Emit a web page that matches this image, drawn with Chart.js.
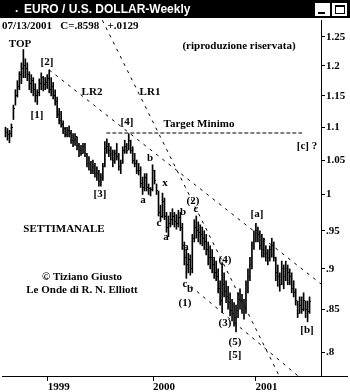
<!DOCTYPE html>
<html>
<head>
<meta charset="utf-8">
<script src="https://cdn.jsdelivr.net/npm/chart.js@4"></script>
<style>
  html, body { margin: 0; padding: 0; background: #fff; }
  canvas { display: block; }
</style>
</head>
<body>
<canvas id="myChart" width="350" height="392"></canvas>
<script>
// weekly bars, first week ending 1998-08-07, last 2001-07-13
const highs = [
  1.100, 1.098, 1.095, 1.105, 1.135, 1.160, 1.175, 1.190, 1.205, 1.228,
  1.212, 1.205, 1.190, 1.185, 1.180, 1.170, 1.160, 1.178, 1.188, 1.182,
  1.180, 1.185, 1.193, 1.180, 1.172, 1.160, 1.148, 1.130, 1.125, 1.110,
  1.100, 1.100, 1.102, 1.095, 1.090, 1.090, 1.085, 1.075, 1.072, 1.075,
  1.075, 1.060, 1.055, 1.048, 1.050, 1.045, 1.040, 1.035, 1.030, 1.045,
  1.078, 1.082, 1.075, 1.070, 1.065, 1.065, 1.075, 1.060, 1.050, 1.070,
  1.080, 1.075, 1.090, 1.080, 1.070, 1.060, 1.050, 1.045, 1.040, 1.025,
  1.030, 1.030, 1.015, 1.010, 1.043, 1.035, 1.015, 1.005, 0.985, 1.002,
  0.995, 0.975, 0.970, 0.975, 0.980, 0.975, 0.972, 0.978, 0.975, 0.960,
  0.935, 0.925, 0.920, 0.918, 0.945, 0.965, 0.970, 0.962, 0.958, 0.955,
  0.950, 0.945, 0.935, 0.930, 0.925, 0.915, 0.910, 0.900, 0.885, 0.908,
  0.895, 0.885, 0.878, 0.870, 0.862, 0.858, 0.855, 0.870, 0.875, 0.868,
  0.862, 0.885, 0.900, 0.915, 0.935, 0.950, 0.960, 0.955, 0.950, 0.945,
  0.940, 0.930, 0.925, 0.930, 0.940, 0.935, 0.915, 0.905, 0.895, 0.910,
  0.905, 0.910, 0.905, 0.900, 0.895, 0.885, 0.875, 0.860, 0.865, 0.865,
  0.870, 0.860, 0.860, 0.865
];
const lows = [
  1.085, 1.080, 1.076, 1.085, 1.112, 1.135, 1.148, 1.160, 1.170, 1.180,
  1.180, 1.175, 1.160, 1.155, 1.150, 1.140, 1.136, 1.150, 1.160, 1.158,
  1.160, 1.162, 1.155, 1.150, 1.145, 1.135, 1.115, 1.105, 1.100, 1.090,
  1.085, 1.085, 1.085, 1.075, 1.070, 1.072, 1.065, 1.055, 1.057, 1.060,
  1.055, 1.040, 1.035, 1.030, 1.030, 1.025, 1.020, 1.012, 1.012, 1.020,
  1.040, 1.060, 1.055, 1.050, 1.040, 1.045, 1.050, 1.035, 1.030, 1.045,
  1.060, 1.060, 1.065, 1.060, 1.045, 1.040, 1.030, 1.028, 1.010, 1.000,
  1.005, 1.005, 1.000, 0.998, 1.005, 1.015, 1.000, 0.970, 0.963, 0.968,
  0.965, 0.948, 0.942, 0.955, 0.958, 0.955, 0.952, 0.955, 0.950, 0.925,
  0.905, 0.888, 0.895, 0.892, 0.895, 0.935, 0.940, 0.935, 0.932, 0.930,
  0.925, 0.918, 0.905, 0.900, 0.895, 0.888, 0.885, 0.870, 0.855, 0.846,
  0.865, 0.858, 0.850, 0.842, 0.836, 0.830, 0.823, 0.840, 0.850, 0.845,
  0.838, 0.845, 0.870, 0.885, 0.900, 0.925, 0.935, 0.935, 0.925, 0.915,
  0.915, 0.910, 0.905, 0.910, 0.915, 0.910, 0.885, 0.878, 0.872, 0.880,
  0.875, 0.885, 0.880, 0.880, 0.870, 0.865, 0.855, 0.840, 0.845, 0.845,
  0.848, 0.840, 0.835, 0.845
];
const closes = [
  1.092, 1.088, 1.090, 1.100, 1.130, 1.150, 1.165, 1.185, 1.195, 1.200,
  1.195, 1.185, 1.170, 1.175, 1.160, 1.150, 1.155, 1.170, 1.180, 1.168,
  1.172, 1.178, 1.160, 1.165, 1.150, 1.140, 1.120, 1.110, 1.105, 1.098,
  1.088, 1.095, 1.090, 1.080, 1.080, 1.085, 1.072, 1.065, 1.060, 1.070,
  1.062, 1.045, 1.045, 1.035, 1.040, 1.030, 1.030, 1.018, 1.025, 1.040,
  1.068, 1.070, 1.065, 1.060, 1.050, 1.060, 1.055, 1.040, 1.045, 1.065,
  1.070, 1.065, 1.080, 1.065, 1.050, 1.045, 1.035, 1.035, 1.015, 1.010,
  1.025, 1.010, 1.008, 1.007, 1.035, 1.020, 1.005, 0.975, 0.970, 0.990,
  0.970, 0.955, 0.960, 0.965, 0.970, 0.962, 0.960, 0.968, 0.955, 0.930,
  0.915, 0.905, 0.912, 0.900, 0.940, 0.955, 0.950, 0.948, 0.945, 0.940,
  0.935, 0.925, 0.915, 0.915, 0.905, 0.895, 0.890, 0.875, 0.860, 0.880,
  0.872, 0.865, 0.858, 0.848, 0.845, 0.840, 0.848, 0.862, 0.860, 0.850,
  0.855, 0.880, 0.890, 0.905, 0.930, 0.945, 0.950, 0.945, 0.930, 0.925,
  0.935, 0.920, 0.915, 0.925, 0.930, 0.915, 0.895, 0.890, 0.880, 0.900,
  0.890, 0.900, 0.895, 0.890, 0.875, 0.870, 0.860, 0.845, 0.855, 0.850,
  0.860, 0.850, 0.847, 0.8598
];

const yearLabels = ['1999', '2000', '2001'];
const yearWeeks = [21.25, 74.25, 125.75];
const priceTicks = [0.8, 0.85, 0.9, 0.95, 1, 1.05, 1.1, 1.15, 1.2, 1.25];

// trend lines as [week, price] pairs
const lr2 = [[22, 1.193], [158.75, 0.881]];
const lr1 = [[48.75, 1.28], [137.75, 0.7733]];
const lowerLine = [[93.25, 0.878], [147.25, 0.7733]];
const targetLine = [[50.75, 1.091], [149.25, 1.091]];

const notes = [
  ['TOP', 20, 44], ['[2]', 47, 62], ['[1]', 37, 115], ['LR2', 92, 92], ['LR1', 150, 92],
  ['(riproduzione riservata)', 239, 46], ['[4]', 127, 122], ['Target Minimo', 199, 124],
  ['[c] ?', 307, 146], ['[3]', 100, 194], ['b', 150, 158], ['a', 143, 200], ['x', 165, 183],
  ['c', 159, 223], ['a', 166, 237], ['b', 183, 212], ['(2)', 193, 201], ['c', 196, 209],
  ['a', 186, 247], ['c', 185, 284], ['b', 190, 289], ['(1)', 185, 303], ['(4)', 225, 260],
  ['(3)', 225, 323], ['(5)', 235, 342], ['[5]', 235, 355], ['[a]', 257, 214], ['[b]', 307, 330],
  ['SETTIMANALE', 64, 229], ['\u00a9 Tiziano Giusto', 82, 277], ['Le Onde di R. N. Elliott', 82, 290]
];

const serif = "'Liberation Serif', 'DejaVu Serif', serif";
const toPts = arr => arr.map(p => ({x: p[0], y: p[1]}));

// close tick: one pixel to the right of the bar
const closeTick = document.createElement('canvas');
closeTick.width = 3;
closeTick.height = 1;
const tctx = closeTick.getContext('2d');
tctx.fillStyle = '#000';
tctx.fillRect(2, 0, 1, 1);

function trend(pts, dash) {
  return {
    type: 'line',
    data: toPts(pts),
    borderColor: '#000',
    borderWidth: 1,
    borderDash: dash,
    pointRadius: 0,
    fill: false
  };
}

const frame = {
  id: 'frame',
  beforeDraw(chart) {
    const c = chart.ctx;
    c.save();
    c.fillStyle = '#fff';
    c.fillRect(0, 0, chart.width, chart.height);
    c.restore();
  },
  afterDraw(chart) {
    const c = chart.ctx;
    const a = chart.chartArea;
    c.save();
    // window title bar
    c.fillStyle = '#000';
    c.fillRect(0, 0, chart.width, 18);
    c.fillStyle = '#fff';
    c.font = "bold 12px 'Liberation Sans', Arial, sans-serif";
    c.textBaseline = 'middle';
    c.fillText('.', 15, 9);
    c.fillText('EURO / U.S. DOLLAR-Weekly', 24, 10);
    c.fillRect(315, 3, 15, 13);
    c.fillRect(332, 3, 15, 13);
    c.fillStyle = '#000';
    c.fillRect(318, 12, 7, 2);
    c.fillRect(335, 5, 10, 2);
    c.strokeStyle = '#000';
    c.lineWidth = 1;
    c.strokeRect(335.5, 5.5, 9, 8);
    // bottom line runs past the price axis
    c.beginPath();
    c.moveTo(a.right, Math.round(a.bottom) + 0.5);
    c.lineTo(chart.width - 2, Math.round(a.bottom) + 0.5);
    c.stroke();
    // header + notes
    c.fillStyle = '#000';
    c.font = 'bold 11px ' + serif;
    c.textAlign = 'left';
    c.fillText('07/13/2001   C=.8598   +.0129', 2, 26);
    c.textAlign = 'center';
    notes.forEach(n => c.fillText(n[0], n[1], n[2]));
    c.restore();
  }
};

const config = {
  type: 'bar',
  data: {
    datasets: [
      {
        data: highs.map((h, i) => ({x: i, y: [lows[i], h]})),
        backgroundColor: '#000',
        borderWidth: 0,
        barThickness: 1
      },
      {
        type: 'line',
        data: closes.map((v, i) => ({x: i, y: v})),
        showLine: false,
        pointStyle: closeTick,
        pointRadius: 1,
        pointHoverRadius: 0
      },
      trend(lr2, [3, 5]),
      trend(lr1, [3, 5]),
      trend(lowerLine, [3, 5]),
      trend(targetLine, [4, 2])
    ]
  },
  options: {
    responsive: false,
    animation: false,
    events: [],
    layout: {padding: {top: 20, left: 0, right: 0, bottom: 0}},
    plugins: {legend: {display: false}, tooltip: {enabled: false}},
    scales: {
      x: {
        type: 'linear',
        min: -1.75,
        max: 158.75,
        offset: false,
        afterBuildTicks: s => { s.ticks = yearWeeks.map(v => ({value: v})); },
        afterFit: s => { s.height = 16; },
        grid: {drawOnChartArea: false, offset: false, tickLength: 5, color: '#000'},
        border: {color: '#000'},
        ticks: {
          align: 'start', padding: 0, autoSkip: false, maxRotation: 0,
          color: '#000', font: {family: serif, size: 11, weight: 'bold'},
          callback: (v, i) => yearLabels[i]
        }
      },
      y: {
        type: 'logarithmic',
        position: 'right',
        min: 0.7733,
        max: 1.2804,
        afterBuildTicks: s => { s.ticks = priceTicks.map(v => ({value: v})); },
        afterFit: s => { s.width = 29; },
        grid: {drawOnChartArea: false, tickLength: 4, color: '#000'},
        border: {color: '#000'},
        ticks: {
          padding: 1, color: '#000', font: {family: serif, size: 11, weight: 'bold'},
          callback: v => v < 1 ? String(v).replace(/^0/, '') : String(v)
        }
      }
    }
  },
  plugins: [frame]
};

const myChart = new Chart(document.getElementById('myChart'), config);
</script>
</body>
</html>
